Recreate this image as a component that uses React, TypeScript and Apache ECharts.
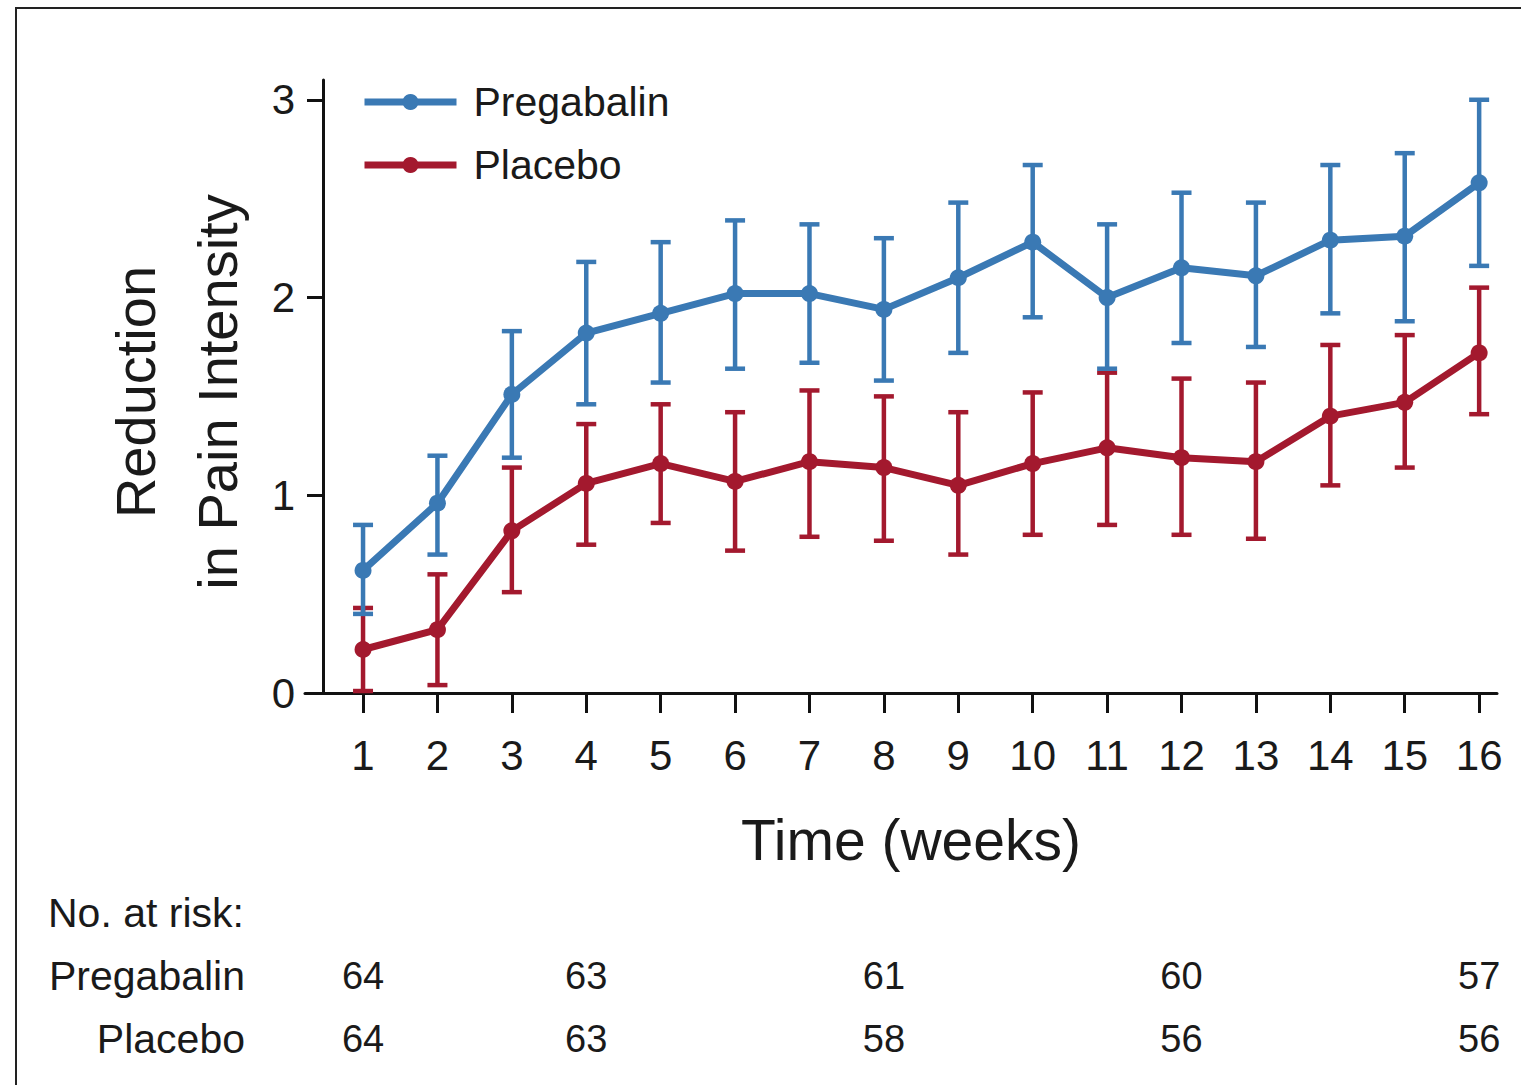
import React, { useEffect, useRef } from "react";
import * as echarts from "echarts";

const weeks = [1, 2, 3, 4, 5, 6, 7, 8, 9, 10, 11, 12, 13, 14, 15, 16];
const pregMean = [0.62, 0.96, 1.51, 1.82, 1.92, 2.02, 2.02, 1.94, 2.10, 2.28, 2.00, 2.15, 2.11, 2.29, 2.31, 2.58];
const pregLow = [0.40, 0.70, 1.19, 1.46, 1.57, 1.64, 1.67, 1.58, 1.72, 1.90, 1.64, 1.77, 1.75, 1.92, 1.88, 2.16];
const pregHigh = [0.85, 1.20, 1.83, 2.18, 2.28, 2.39, 2.37, 2.30, 2.48, 2.67, 2.37, 2.53, 2.48, 2.67, 2.73, 3.00];
const placMean = [0.22, 0.32, 0.82, 1.06, 1.16, 1.07, 1.17, 1.14, 1.05, 1.16, 1.24, 1.19, 1.17, 1.40, 1.47, 1.72];
const placLow = [0.01, 0.04, 0.51, 0.75, 0.86, 0.72, 0.79, 0.77, 0.70, 0.80, 0.85, 0.80, 0.78, 1.05, 1.14, 1.41];
const placHigh = [0.43, 0.60, 1.14, 1.36, 1.46, 1.42, 1.53, 1.50, 1.42, 1.52, 1.62, 1.59, 1.57, 1.76, 1.81, 2.05];
const yTicks = [0, 1, 2, 3];

const riskRows = ["Pregabalin", "Placebo"];
const riskWeeks = [1, 4, 8, 12, 16];
const pregRisk = [64, 63, 61, 60, 57];
const placRisk = [64, 63, 58, 56, 56];

const BLUE = "#3a79b4";
const RED = "#a3192e";
const FONT = "Liberation Sans, Arial, Helvetica, sans-serif";

function errorSeries(name: string, low: number[], high: number[], color: string) {
  return {
    type: "custom",
    name: name + " error",
    xAxisIndex: 0,
    yAxisIndex: 0,
    z: 2,
    silent: true,
    encode: { x: 0, y: [1, 2] },
    data: weeks.map((w, i) => [w, low[i], high[i]]),
    renderItem: (params: any, api: any) => {
      const x = api.value(0);
      const pHi = api.coord([x, api.value(2)]);
      const pLo = api.coord([x, api.value(1)]);
      const hw = 10;
      const st = { stroke: color, lineWidth: 4.5 };
      return {
        type: "group",
        children: [
          { type: "line", shape: { x1: pHi[0], y1: pHi[1], x2: pLo[0], y2: pLo[1] }, style: st },
          { type: "line", shape: { x1: pHi[0] - hw, y1: pHi[1], x2: pHi[0] + hw, y2: pHi[1] }, style: st },
          { type: "line", shape: { x1: pLo[0] - hw, y1: pLo[1], x2: pLo[0] + hw, y2: pLo[1] }, style: st },
        ],
      };
    },
  };
}

function lineSeries(name: string, values: number[], color: string) {
  return {
    type: "line",
    name,
    xAxisIndex: 0,
    yAxisIndex: 0,
    z: 3,
    data: weeks.map((w, i) => [w, values[i]]),
    symbol: "circle",
    symbolSize: 17,
    itemStyle: { color },
    lineStyle: { color, width: 7 },
  };
}

function riskSeries(row: string, counts: number[]) {
  return {
    type: "scatter",
    xAxisIndex: 1,
    yAxisIndex: 1,
    symbol: "circle",
    symbolSize: 1,
    itemStyle: { color: "#ffffff", opacity: 1 },
    silent: true,
    data: riskWeeks.map((w, i) => [w, row, counts[i]]),
    label: {
      show: true,
      position: "inside",
      formatter: (p: any) => String(p.value[2]),
      fontSize: 38,
      fontFamily: FONT,
      color: "#1a1a1a",
      opacity: 1,
    },
  };
}

export default function App() {
  const ref = useRef<HTMLDivElement>(null);
  useEffect(() => {
    document.body.style.margin = "0";
    const chart = echarts.init(ref.current!, null, { renderer: "svg" });
    const xMin = 0.22;
    const xMax = 16.24;
    chart.setOption({
      animation: false,
      backgroundColor: "#ffffff",
      textStyle: { fontFamily: FONT },
      grid: [
        { left: 305, top: 80, width: 1192, height: 613 },
        { left: 305, top: 944, width: 1192, height: 126 },
      ],
      legend: {
        show: true,
        orient: "vertical",
        left: 356,
        top: 76,
        itemWidth: 92,
        itemHeight: 20,
        itemGap: 21,
        data: ["Pregabalin", "Placebo"],
        lineStyle: { width: 7 },
        textStyle: { fontSize: 41, fontFamily: FONT, color: "#1a1a1a", lineHeight: 42, padding: [0, 0, 0, 12] },
      },
      xAxis: [
        {
          type: "value",
          gridIndex: 0,
          min: xMin,
          max: xMax,
          name: "Time (weeks)",
          nameLocation: "middle",
          nameGap: 118,
          nameTextStyle: { fontSize: 57, fontFamily: FONT, color: "#1a1a1a", padding: [0, 0, 0, 20] },
          axisLine: { show: true, lineStyle: { color: "#111", width: 3 } },
          axisTick: { show: true, length: 20, lineStyle: { color: "#111", width: 3 }, customValues: weeks },
          axisLabel: { show: true, fontSize: 42, fontFamily: FONT, color: "#1a1a1a", margin: 41, customValues: weeks },
          splitLine: { show: false },
        },
        {
          type: "value",
          gridIndex: 1,
          min: xMin,
          max: xMax,
          show: false,
        },
      ],
      yAxis: [
        {
          type: "value",
          gridIndex: 0,
          min: 0,
          max: 3.1,
          offset: -18,
          axisLine: { show: true, lineStyle: { color: "#111", width: 3 } },
          axisTick: { show: true, length: 16, lineStyle: { color: "#111", width: 3 }, customValues: yTicks },
          axisLabel: { show: true, fontSize: 42, fontFamily: FONT, color: "#1a1a1a", margin: 28, customValues: yTicks },
          splitLine: { show: false },
        },
        {
          type: "category",
          gridIndex: 1,
          data: riskRows,
          inverse: true,
          axisLine: { show: false },
          axisTick: { show: false },
          axisLabel: { show: true, fontSize: 41, fontFamily: FONT, color: "#1a1a1a", margin: 60 },
          splitLine: { show: false },
        },
      ],
      graphic: [
        {
          type: "rect",
          shape: { x: 16, y: 8, width: 1700, height: 1300 },
          style: { fill: "none", stroke: "#222", lineWidth: 2 },
          silent: true,
        },
        {
          type: "text",
          x: 176,
          y: 392,
          rotation: Math.PI / 2,
          style: {
            text: "Reduction\nin Pain Intensity",
            fontSize: 56,
            lineHeight: 82,
            fontFamily: FONT,
            fill: "#1a1a1a",
            align: "center",
            verticalAlign: "middle",
          },
        },
        {
          type: "text",
          x: 48,
          y: 913,
          style: {
            text: "No. at risk:",
            fontSize: 41,
            fontFamily: FONT,
            fill: "#1a1a1a",
            align: "left",
            verticalAlign: "middle",
          },
        },
      ],
      series: [
        errorSeries("Placebo", placLow, placHigh, RED),
        errorSeries("Pregabalin", pregLow, pregHigh, BLUE),
        lineSeries("Placebo", placMean, RED),
        lineSeries("Pregabalin", pregMean, BLUE),
        riskSeries("Pregabalin", pregRisk),
        riskSeries("Placebo", placRisk),
      ],
    });
    return () => chart.dispose();
  }, []);
  return <div ref={ref} style={{ width: 1521, height: 1085 }} />;
}
